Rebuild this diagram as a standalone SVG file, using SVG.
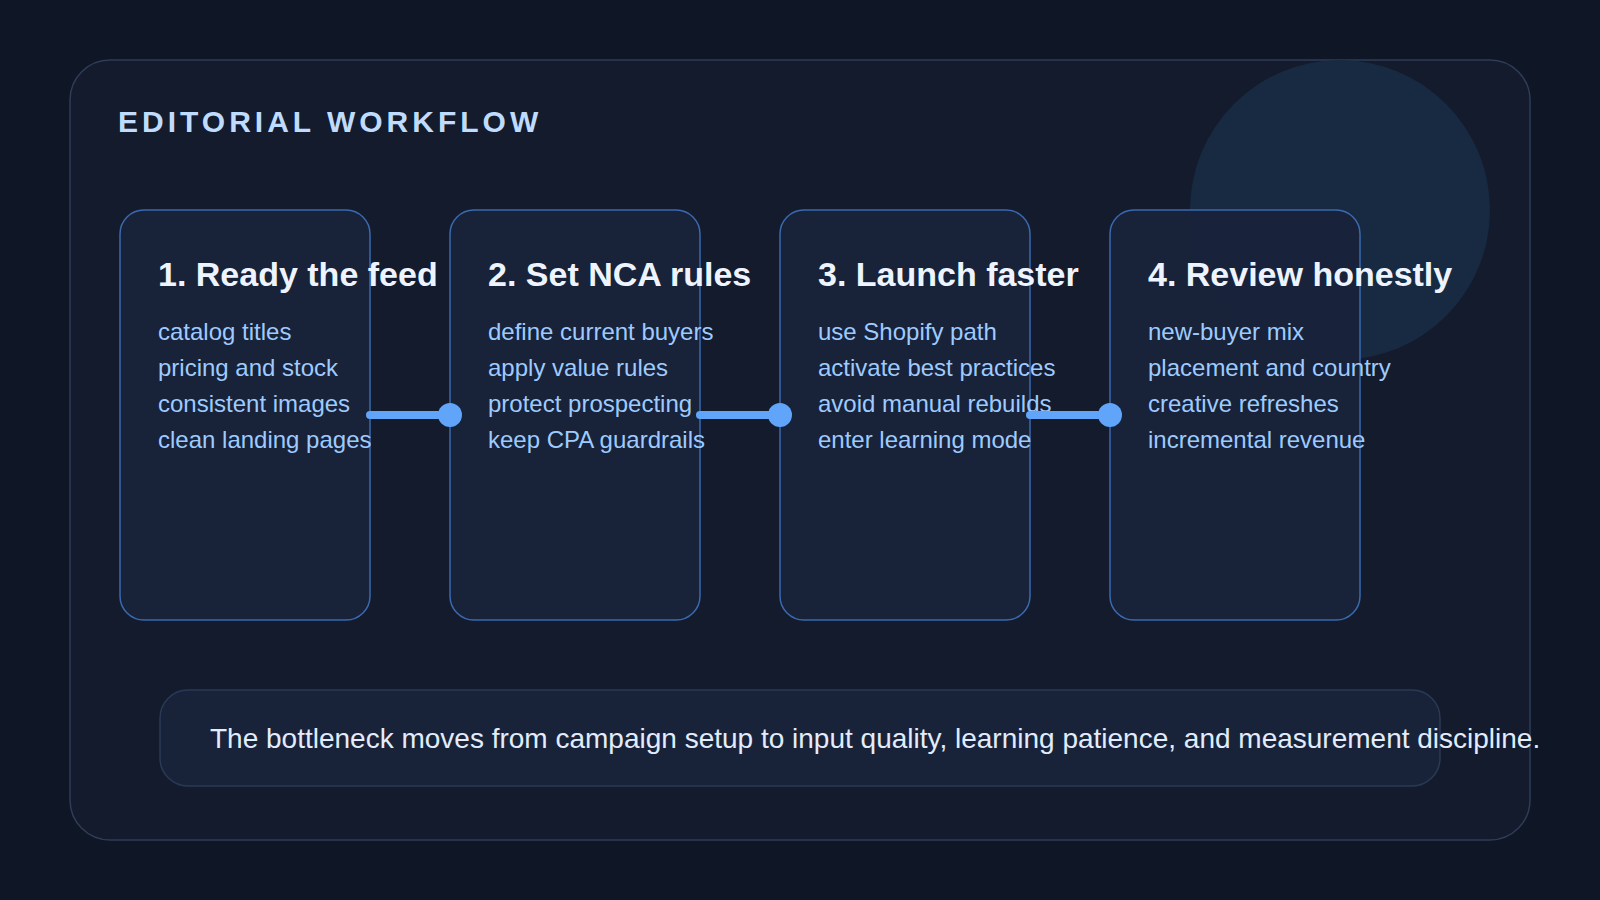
<svg xmlns="http://www.w3.org/2000/svg" width="1600" height="900" viewBox="0 0 1600 900">
  <style>
    .card { fill: #18233a; fill-opacity: 0.94; stroke: #3a6ab0; stroke-width: 1.5; }
    .title { font-family: "Liberation Sans", Arial, sans-serif; font-weight: 700; font-size: 34px; fill: #eef4ff; }
    .item { font-family: "Liberation Sans", Arial, sans-serif; font-size: 24px; fill: #9ecbff; }
    .head { font-family: "Liberation Sans", Arial, sans-serif; font-weight: 700; font-size: 30px; letter-spacing: 4px; fill: #bfdbfe; }
    .note { font-family: "Liberation Sans", Arial, sans-serif; font-size: 28px; fill: #e2ecfc; }
    .link { stroke: #60a5fa; stroke-width: 8; stroke-linecap: round; fill: none; }
    .dot { fill: #60a5fa; }
  </style>
  <rect x="0" y="0" width="1600" height="900" fill="#0f1625"/>
  <g id="panel">
    <rect x="70" y="60" width="1460" height="780" rx="40" fill="#131b2d" stroke="#2e3d58" stroke-width="1.5"/>
    <circle cx="1340" cy="210" r="150" fill="#172a42"/>
    <text class="head" x="118" y="132">EDITORIAL WORKFLOW</text>
  </g>
  <g id="step1">
    <rect class="card" x="120" y="210" width="250" height="410" rx="24"/>
    <text class="title" x="158" y="286">1. Ready the feed</text>
    <text class="item" x="158" y="340">catalog titles</text>
    <text class="item" x="158" y="376">pricing and stock</text>
    <text class="item" x="158" y="412">consistent images</text>
    <text class="item" x="158" y="448">clean landing pages</text>
  </g>
  <g id="step2">
    <rect class="card" x="450" y="210" width="250" height="410" rx="24"/>
    <text class="title" x="488" y="286">2. Set NCA rules</text>
    <text class="item" x="488" y="340">define current buyers</text>
    <text class="item" x="488" y="376">apply value rules</text>
    <text class="item" x="488" y="412">protect prospecting</text>
    <text class="item" x="488" y="448">keep CPA guardrails</text>
  </g>
  <g id="step3">
    <rect class="card" x="780" y="210" width="250" height="410" rx="24"/>
    <text class="title" x="818" y="286">3. Launch faster</text>
    <text class="item" x="818" y="340">use Shopify path</text>
    <text class="item" x="818" y="376">activate best practices</text>
    <text class="item" x="818" y="412">avoid manual rebuilds</text>
    <text class="item" x="818" y="448">enter learning mode</text>
  </g>
  <g id="step4">
    <rect class="card" x="1110" y="210" width="250" height="410" rx="24"/>
    <text class="title" x="1148" y="286">4. Review honestly</text>
    <text class="item" x="1148" y="340">new-buyer mix</text>
    <text class="item" x="1148" y="376">placement and country</text>
    <text class="item" x="1148" y="412">creative refreshes</text>
    <text class="item" x="1148" y="448">incremental revenue</text>
  </g>
  <g id="connectors">
    <line class="link" x1="370" y1="415" x2="450" y2="415"/>
    <circle class="dot" cx="450" cy="415" r="12"/>
    <line class="link" x1="700" y1="415" x2="780" y2="415"/>
    <circle class="dot" cx="780" cy="415" r="12"/>
    <line class="link" x1="1030" y1="415" x2="1110" y2="415"/>
    <circle class="dot" cx="1110" cy="415" r="12"/>
  </g>
  <g id="summary">
    <rect x="160" y="690" width="1280" height="96" rx="28" fill="#18233a" stroke="#2a3a56" stroke-width="1.5"/>
    <text class="note" x="210" y="748">The bottleneck moves from campaign setup to input quality, learning patience, and measurement discipline.</text>
  </g>
</svg>
